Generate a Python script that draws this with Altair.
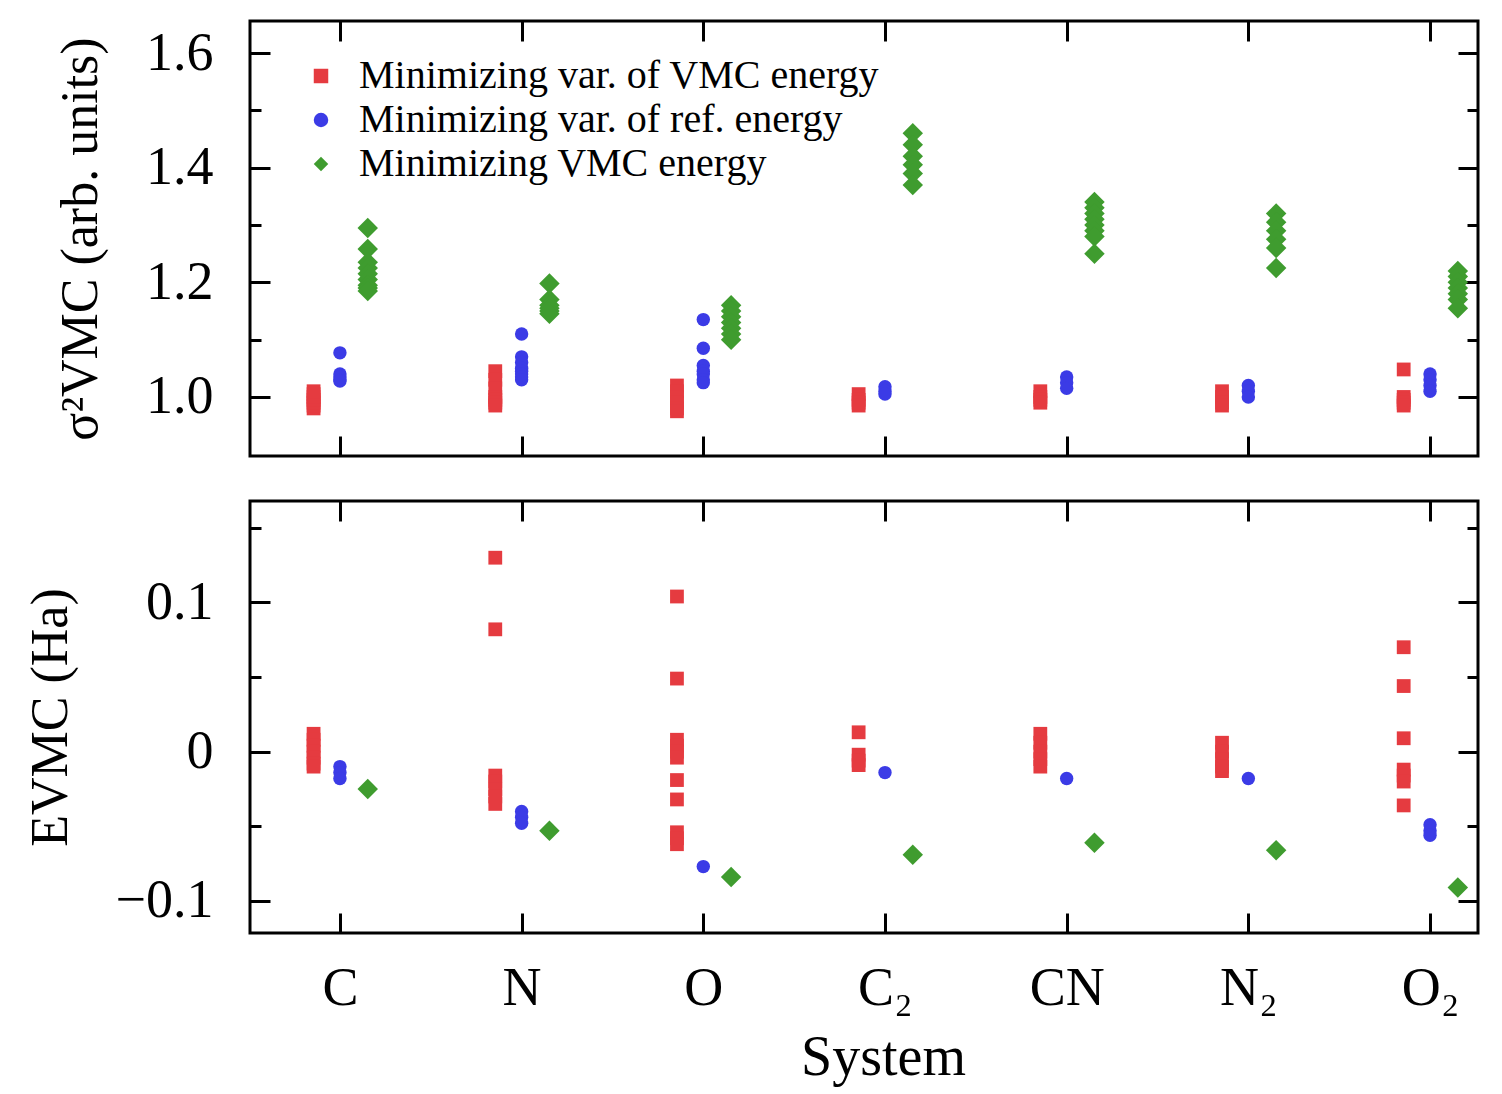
import altair as alt
import pandas as pd

# ---------------- data ----------------
systems = ["C", "N", "O", "C₂", "CN", "N₂", "O₂"]
methods = [
    "Minimizing var. of VMC energy",
    "Minimizing var. of ref. energy",
    "Minimizing VMC energy",
]
colors = ["#e53b40", "#3b3be6", "#3f9c2f"]
shapes = ["square", "circle", "diamond"]
sizes = [190, 180, 420]

# variance panel, one list per system (C, N, O, C2, CN, N2, O2)
var_minvar_vmc = [
    [0.98, 0.985, 0.99, 0.995, 1.0, 1.005, 1.01],
    [1.045, 1.03, 1.015, 1.0, 0.995, 0.99, 0.985],
    [1.02, 1.01, 1.0, 0.99, 0.98, 0.975],
    [1.005, 0.995, 0.99, 0.985],
    [1.01, 1.0, 0.995, 0.99],
    [1.01, 1.0, 0.99, 0.985],
    [1.048, 1.0, 0.995, 0.99, 0.985],
]
var_minvar_ref = [
    [1.077, 1.04, 1.035, 1.03, 1.028],
    [1.11, 1.07, 1.06, 1.05, 1.045, 1.04, 1.035, 1.03],
    [1.135, 1.085, 1.055, 1.045, 1.04, 1.03, 1.025],
    [1.018, 1.01, 1.005],
    [1.035, 1.025, 1.015],
    [1.02, 1.01, 1.0],
    [1.04, 1.03, 1.02, 1.01],
]
var_minE_vmc = [
    [1.295, 1.258, 1.235, 1.225, 1.215, 1.205, 1.195, 1.19, 1.185],
    [1.198, 1.17, 1.16, 1.155, 1.15, 1.145],
    [1.16, 1.15, 1.14, 1.13, 1.12, 1.11, 1.1],
    [1.46, 1.44, 1.42, 1.405, 1.39, 1.37],
    [1.34, 1.33, 1.32, 1.31, 1.30, 1.29, 1.28, 1.25],
    [1.32, 1.305, 1.29, 1.275, 1.26, 1.225],
    [1.22, 1.21, 1.2, 1.19, 1.18, 1.17, 1.155],
]

# energy panel (Ha)
e_minvar_vmc = [
    [0.012, 0.008, 0.004, 0.0, -0.004, -0.008, -0.01],
    [0.13, 0.082, -0.016, -0.02, -0.025, -0.03, -0.035],
    [0.104, 0.049, 0.008, 0.004, 0.0, -0.004, -0.019, -0.032, -0.054, -0.058, -0.062],
    [0.013, -0.002, -0.006, -0.009],
    [0.012, 0.006, 0.0, -0.005, -0.01],
    [0.006, 0.0, -0.005, -0.01, -0.013],
    [0.07, 0.044, 0.009, -0.012, -0.016, -0.02, -0.036],
]
e_minvar_ref = [
    [-0.01, -0.014, -0.018],
    [-0.04, -0.044, -0.048],
    [-0.077],
    [-0.014],
    [-0.018],
    [-0.018],
    [-0.049, -0.053, -0.056],
]
e_minE_vmc = [
    [-0.025],
    [-0.053],
    [-0.084],
    [-0.069],
    [-0.061],
    [-0.066],
    [-0.091],
]

var_major = [1.0, 1.2, 1.4, 1.6]
var_minor = [1.1, 1.3, 1.5]
e_major = [-0.1, 0.0, 0.1]
e_minor = [-0.05, 0.05, 0.15]


def build(series):
    rows = []
    for m, lists in enumerate(series):
        for i, vals in enumerate(lists):
            for v in vals:
                rows.append({"system": systems[i], "idx": i, "m": m,
                             "method": methods[m], "value": v})
    return pd.DataFrame(rows)


df_var = build([var_minvar_vmc, var_minvar_ref, var_minE_vmc])
df_e = build([e_minvar_vmc, e_minvar_ref, e_minE_vmc])

# ---------------- styling ----------------
FONT = "Liberation Serif"
W = 1228
XDOM = [-0.495, 6.264]
MAJ = 20
MIN = 11
xlabel_expr = "[" + ",".join("'%s'" % s for s in systems) + "][datum.value]"
dodge = "datum.idx + [-0.145, 0, 0.153][datum.m]"
size_expr = "[" + ",".join(str(s) for s in sizes) + "][datum.m]"


def axis(**kw):
    base = dict(domain=False, grid=False, tickColor="black", tickWidth=3,
                labelFont=FONT, labelColor="black", titleFont=FONT,
                titleColor="black", titleFontWeight="normal")
    base.update(kw)
    return alt.Axis(**base)


def panel(df, ydom, major, minor, ytitle, ytp, ylab_expr, height, bottom, legend):
    xs = alt.Scale(domain=XDOM, nice=False, zero=False)
    ys = alt.Scale(domain=ydom, nice=False, zero=False)
    base = alt.Chart(df).transform_calculate(xpos=dodge, msize=size_expr)

    if bottom:
        xb = axis(orient="bottom", values=list(range(7)), offset=-MAJ, tickSize=MAJ,
                  labels=True, labelExpr=xlabel_expr, labelFontSize=54,
                  labelPadding=28, title="System", titleFontSize=56,
                  titlePadding=15, titleX=633)
    else:
        xb = axis(orient="bottom", values=list(range(7)), offset=-MAJ, tickSize=MAJ,
                  labels=False, title=None)

    leg = None
    if legend:
        leg = alt.Legend(orient="none", legendX=51, legendY=35, title=None,
                         labelFont=FONT, labelFontSize=40, labelColor="black",
                         labelOffset=18, labelLimit=0, rowPadding=4, padding=0,
                         symbolSize=210, symbolStrokeWidth=0)

    pts = base.mark_point(filled=True, opacity=1, strokeWidth=0).encode(
        x=alt.X("xpos:Q", scale=xs, axis=xb),
        y=alt.Y("value:Q", scale=ys,
                axis=axis(orient="left", values=major, offset=-MAJ, tickSize=MAJ,
                          labelExpr=ylab_expr, labelFontSize=54, labelPadding=37,
                          title=ytitle, titleFontSize=52, titlePadding=ytp)),
        color=alt.Color("method:N", scale=alt.Scale(domain=methods, range=colors), legend=leg),
        shape=alt.Shape("method:N", scale=alt.Scale(domain=methods, range=shapes), legend=leg),
        size=alt.Size("msize:Q", scale=None),
    )
    carrier1 = base.mark_point(opacity=0).encode(
        x=alt.X("xpos:Q", scale=xs,
                axis=axis(orient="top", values=list(range(7)), offset=-MAJ,
                          tickSize=MAJ, labels=False, title=None)),
        y=alt.Y("value:Q", scale=ys,
                axis=axis(orient="left", values=minor, offset=-MIN, tickSize=MIN,
                          labels=False, title=None)),
    )
    carrier2 = base.mark_point(opacity=0).encode(
        x=alt.X("xpos:Q", scale=xs, axis=None),
        y=alt.Y("value:Q", scale=ys,
                axis=axis(orient="right", values=major, offset=-MAJ, tickSize=MAJ,
                          labels=False, title=None)),
    )
    carrier3 = base.mark_point(opacity=0).encode(
        x=alt.X("xpos:Q", scale=xs, axis=None),
        y=alt.Y("value:Q", scale=ys,
                axis=axis(orient="right", values=minor, offset=-MIN, tickSize=MIN,
                          labels=False, title=None)),
    )
    return (
        alt.layer(pts, carrier1, carrier2, carrier3)
        .resolve_axis(x="independent", y="independent")
        .properties(width=W, height=height)
    )


top = panel(df_var, [0.897, 1.656], var_major, var_minor,
            "σ²VMC (arb. units)", 38, "format(datum.value, '.1f')",
            435, bottom=False, legend=True)
bot = panel(df_e, [-0.1215, 0.168], e_major, e_minor,
            "EVMC (Ha)", 38,
            "datum.value == 0 ? '0' : format(datum.value, '.1f')",
            432, bottom=True, legend=False)

chart = (
    alt.vconcat(top, bot, spacing=39)
    .resolve_scale(color="independent", shape="independent")
    .properties(padding={"left": 14, "top": 10, "right": 4, "bottom": 0},
                background="white")
    .configure_view(stroke="black", strokeWidth=3)
)

chart.save("out.html", embed_options={"renderer": "svg", "actions": False})
